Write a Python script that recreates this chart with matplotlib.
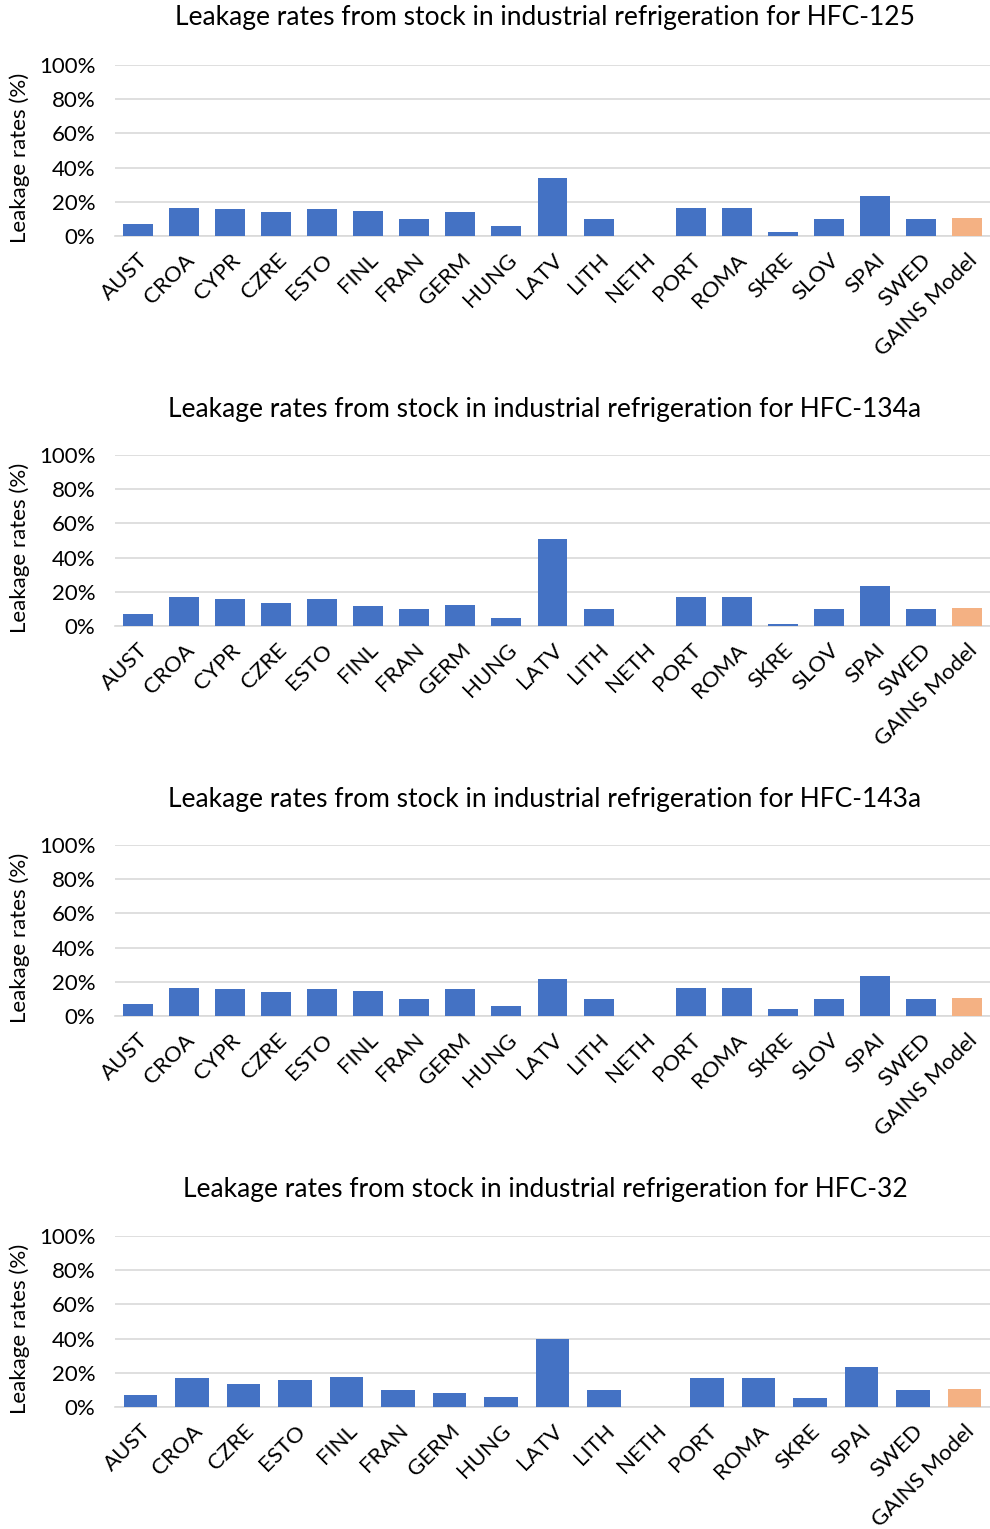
import matplotlib.pyplot as plt
from matplotlib.ticker import PercentFormatter

plt.rcParams['font.family'] = ['Lato', 'DejaVu Sans']

# -------------------------------------------------------------------
# Data (leakage rates, %)
# -------------------------------------------------------------------
countries_a = ['AUST', 'CROA', 'CYPR', 'CZRE', 'ESTO', 'FINL', 'FRAN', 'GERM', 'HUNG',
               'LATV', 'LITH', 'NETH', 'PORT', 'ROMA', 'SKRE', 'SLOV', 'SPAI', 'SWED',
               'GAINS Model']
countries_b = ['AUST', 'CROA', 'CZRE', 'ESTO', 'FINL', 'FRAN', 'GERM', 'HUNG', 'LATV',
               'LITH', 'NETH', 'PORT', 'ROMA', 'SKRE', 'SPAI', 'SWED', 'GAINS Model']

hfc125 = [7.1, 16.5, 15.7, 13.9, 15.7, 14.7, 10.0, 13.9, 6.1, 33.9, 10.0, 0.0,
          16.5, 16.5, 2.4, 10.0, 23.5, 10.0, 10.6]
hfc134a = [6.9, 16.7, 15.5, 13.7, 15.5, 11.8, 9.8, 12.5, 4.9, 51.0, 10.0, 0.0,
           16.7, 16.7, 1.2, 10.0, 23.1, 10.0, 10.8]
hfc143a = [6.9, 16.4, 15.6, 13.9, 15.6, 14.7, 9.9, 15.6, 5.9, 21.4, 9.9, 0.0,
           16.4, 16.4, 4.0, 9.9, 23.4, 9.9, 10.5]
hfc32 = [6.9, 16.7, 13.7, 15.7, 17.6, 10.0, 8.0, 6.1, 39.8, 10.0, 0.0,
         16.7, 16.7, 5.1, 23.4, 10.0, 10.8]

panels = [
    ('HFC-125', countries_a, hfc125),
    ('HFC-134a', countries_a, hfc134a),
    ('HFC-143a', countries_a, hfc143a),
    ('HFC-32', countries_b, hfc32),
]

# -------------------------------------------------------------------
# Plot
# -------------------------------------------------------------------
W, H = 990, 1529
fig = plt.figure(figsize=(W / 100, H / 100), dpi=100)

zero_px = [236, 626, 1016, 1407]
title_px = [18, 409, 800, 1190]

for (gas, cats, vals), z, t in zip(panels, zero_px, title_px):
    ax = fig.add_axes([115 / W, 1 - z / H, (W - 115) / W, 171 / H])
    colors = ['#4472C4'] * (len(cats) - 1) + ['#F4B183']
    x = range(len(cats))
    ax.bar(x, vals, width=0.65, color=colors, zorder=3)
    ax.set_xlim(-0.5, len(cats) - 0.5)
    ax.set_ylim(0, 100)
    ax.set_yticks(range(0, 101, 20))
    ax.yaxis.set_major_formatter(PercentFormatter(decimals=0))
    ax.grid(axis='y', color='#D9D9D9', linewidth=1.2, zorder=0)
    for s in ['top', 'right', 'left']:
        ax.spines[s].set_visible(False)
    ax.spines['bottom'].set_color('#D9D9D9')
    ax.spines['bottom'].set_linewidth(1.2)
    ax.tick_params(length=0, labelsize=16, colors='#000000')
    ax.tick_params(axis='y', pad=14)
    ax.tick_params(axis='x', pad=10)
    ax.set_xticks(list(x))
    ax.set_xticklabels(cats, rotation=45, ha='right', rotation_mode='anchor')

    fig.text(545 / W, 1 - t / H,
             'Leakage rates from stock in industrial refrigeration for ' + gas,
             ha='center', va='center', fontsize=19)
    fig.text(20 / W, 1 - (z - 78) / H, 'Leakage rates (%)', rotation=90,
             ha='center', va='center', fontsize=16)

fig.savefig('out.png', dpi=100, facecolor='white')
